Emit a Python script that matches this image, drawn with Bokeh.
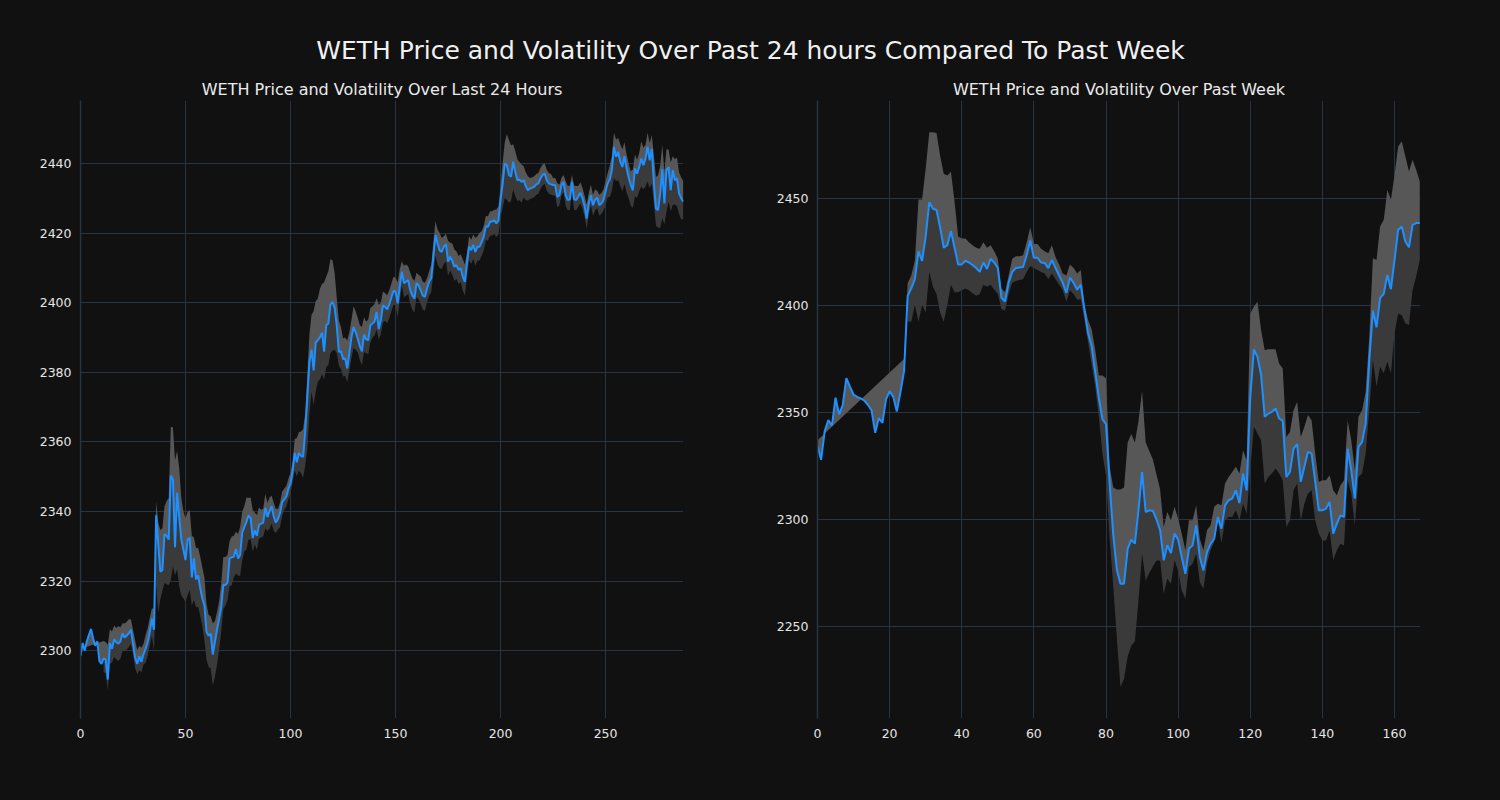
import math
from bokeh.plotting import figure
from bokeh.layouts import column, row
from bokeh.models import Range1d, FixedTicker
from bokeh.core.properties import value
from bokeh.embed import file_html
from bokeh.resources import INLINE

N = float("nan")

# ---------------- data: last 24 hours (5-minute steps) ----------------
price_24h = [
    2298.4, 2302.2, 2300.0, 2302.7, 2304.5, 2306.2, 2303.5, 2301.4, 2302.7, 2297.0,
    2296.2, 2297.8, 2297.5, 2291.7, 2302.2, 2300.5, 2303.2, 2302.5, 2302.0, 2302.7,
    2304.9, 2303.8, 2304.3, 2305.0, 2306.0, 2302.0, 2298.0, 2296.2, 2298.4, 2296.8,
    2299.0, 2300.5, 2302.5, 2305.5, 2309.2, 2306.0, 2338.9, 2330.8, 2322.7, 2323.2,
    2333.5, 2333.0, 2331.9, 2350.3, 2349.2, 2329.7, 2345.4, 2338.4, 2331.9, 2329.0,
    2326.0, 2331.9, 2332.4, 2321.0, 2326.5, 2320.5, 2321.6, 2318.0, 2315.0, 2313.0,
    2305.4, 2304.3, 2304.9, 2298.9, 2302.5, 2306.0, 2309.2, 2312.4, 2318.9, 2318.9,
    2319.5, 2326.5, 2326.8, 2327.0, 2329.2, 2326.5, 2327.5, 2334.0, 2335.5, 2337.0,
    2338.9, 2338.0, 2332.4, 2334.6, 2333.0, 2336.2, 2336.5, 2336.8, 2341.1, 2338.4,
    2340.0, 2341.5, 2338.5, 2336.8, 2337.8, 2339.5, 2342.7, 2343.5, 2344.3, 2346.5,
    2348.1, 2351.5, 2356.8, 2354.1, 2356.8, 2356.0, 2355.7, 2363.2, 2373.0, 2383.0,
    2386.5, 2380.5, 2388.5, 2389.2, 2390.0, 2391.4, 2385.9, 2393.5, 2394.0, 2399.5,
    2400.2, 2398.5, 2393.5, 2385.9, 2386.0, 2383.8, 2384.0, 2381.1, 2385.5, 2390.0,
    2393.0, 2391.5, 2389.7, 2387.5, 2386.0, 2390.8, 2389.5, 2389.2, 2393.5, 2394.0,
    2394.6, 2397.3, 2392.4, 2395.0, 2399.2, 2398.8, 2398.1, 2399.5, 2401.5, 2403.4,
    2403.2, 2399.8, 2404.6, 2408.9, 2405.6, 2406.0, 2406.5, 2403.6, 2402.0, 2401.2,
    2405.6, 2405.0, 2403.5, 2402.0, 2401.7, 2404.1, 2406.0, 2407.0, 2413.2, 2419.4,
    2417.0, 2415.0, 2414.6, 2416.1, 2416.8, 2411.8, 2413.2, 2412.0, 2410.3, 2410.8,
    2409.4, 2409.9, 2407.5, 2406.0, 2411.3, 2416.1, 2415.1, 2416.6, 2414.6, 2416.1,
    2416.1, 2417.5, 2419.0, 2422.0, 2421.8, 2423.3, 2423.3, 2423.7, 2422.8, 2423.7,
    2429.5, 2434.3, 2440.0, 2439.5, 2436.7, 2436.2, 2440.5, 2437.6, 2435.2, 2435.4,
    2434.7, 2435.2, 2433.5, 2432.3, 2432.8, 2433.0, 2433.3, 2434.0, 2434.3, 2435.7,
    2436.7, 2437.1, 2435.2, 2434.3, 2434.0, 2433.8, 2433.8, 2430.4, 2430.9, 2433.8,
    2434.7, 2430.9, 2429.5, 2429.7, 2434.7, 2429.7, 2429.5, 2430.5, 2431.6, 2430.0,
    2427.8, 2424.2, 2428.5, 2430.9, 2428.0, 2429.5, 2430.2, 2428.0, 2428.5, 2429.5,
    2432.0, 2434.3, 2435.4, 2438.1, 2444.8, 2441.9, 2443.3, 2440.5, 2439.0, 2442.1,
    2438.6, 2436.0, 2433.8, 2432.3, 2438.6, 2437.1, 2439.0, 2441.4, 2439.5, 2441.4,
    2444.8, 2440.9, 2444.2, 2434.3, 2427.1, 2426.6, 2431.4, 2438.3, 2428.5, 2438.1,
    2439.0, 2432.3, 2438.1, 2435.2, 2435.7, 2431.4, 2430.0, 2429.0,
]
# distance of the upper band above the price (NaN = no band value)
band_up_24h = [
    2.1, N, N, N, N, N, N, N, N, N,
    N, 5, 5, 10, 4, 5, 4, 4, 5, 4,
    3, 4, 4, 4, 3, 4, 5, 4, 3, 4,
    3, 4, 4, 4, 3, 6, 4, 6, 12, 12,
    8, 10, 12, 14, 15, 25, 12, 14, 12, 11,
    12, 8, 8, 12, 6, 9, 8, 9, 9, 8,
    8, 6, 5, 9, 6, 5, 5, 7, 8, 8,
    8, 5, 6, 6, 5, 7, 8, 6, 6, 7,
    5, 6, 8, 5, 6, 5, 4, 4, 4, 4,
    4, 3, 4, 4, 3, 3, 3, 3, 3, 3,
    3, 3, 4, 7, 6, 7, 8, 5, 6, 8,
    10, 17, 12, 12, 14, 14, 20, 14, 15, 13,
    12, 10, 8, 9, 7, 6, 6, 8, 6, 5,
    6, 6, 6, 6, 7, 5, 5, 6, 5, 5,
    5, 4, 7, 5, 4, 4, 4, 4, 4, 4,
    4, 6, 5, 3, 5, 5, 4, 5, 5, 5,
    3, 3, 4, 4, 4, 3, 3, 4, 4, 4,
    4, 5, 4, 3, 3, 6, 4, 5, 5, 4,
    4, 4, 5, 5, 3, 3, 3, 3, 4, 3,
    4, 3, 3, 3, 3, 3, 3, 3, 4, 4,
    4, 6, 6, 9, 10, 9, 5, 6, 6, 5,
    5, 4, 4, 4, 3, 3, 3, 3, 3, 3,
    3, 3, 3, 3, 3, 2, 2, 4, 3, 2,
    2, 4, 4, 4, 2, 4, 4, 3, 3, 3,
    3, 4, 3, 3, 3, 3, 2, 3, 3, 3,
    3, 3, 4, 4, 4, 5, 4, 5, 5, 4,
    4, 4, 4, 6, 4, 4, 4, 5, 5, 4,
    4, 5, 4, 8, 9, 10, 8, 7, 9, 6,
    5, 8, 4, 6, 6, 6, 6, 6,
]
# distance of the lower band below the price
band_dn_24h = [
    N, N, N, N, N, N, N, N, N, N,
    N, 4, 4, 3, 6, 4, 5, 5, 5, 5,
    5, 4, 4, 4, 4, 3, 3, 3, 4, 3,
    3, 4, 4, 4, 5, 6, 20, 20, 8, 6,
    14, 14, 13, 30, 25, 8, 22, 20, 16, 14,
    12, 16, 15, 8, 12, 8, 9, 8, 8, 10,
    8, 9, 10, 9, 10, 10, 9, 7, 7, 6,
    5, 8, 8, 6, 7, 5, 6, 8, 7, 8,
    7, 6, 4, 4, 4, 4, 4, 4, 6, 4,
    5, 5, 4, 3, 3, 4, 4, 3, 3, 3,
    3, 3, 5, 4, 5, 5, 6, 10, 15, 15,
    12, 10, 14, 12, 12, 12, 8, 12, 12, 14,
    14, 12, 8, 4, 5, 5, 5, 4, 5, 6,
    6, 5, 4, 4, 4, 5, 4, 4, 5, 4,
    4, 5, 3, 4, 5, 4, 4, 4, 4, 4,
    4, 4, 4, 4, 4, 4, 4, 4, 4, 4,
    4, 4, 4, 4, 4, 4, 4, 4, 5, 6,
    6, 5, 5, 5, 5, 4, 4, 4, 4, 4,
    4, 4, 4, 4, 4, 4, 4, 4, 4, 4,
    4, 4, 4, 4, 4, 4, 4, 4, 4, 4,
    5, 7, 10, 10, 8, 7, 8, 7, 6, 6,
    6, 5, 4, 3, 3, 3, 3, 3, 3, 3,
    3, 3, 3, 3, 3, 3, 3, 3, 3, 3,
    3, 3, 3, 3, 3, 3, 3, 3, 3, 3,
    3, 3, 3, 3, 3, 3, 3, 3, 3, 3,
    4, 4, 5, 6, 9, 7, 8, 7, 7, 8,
    7, 6, 6, 5, 8, 7, 7, 8, 7, 8,
    10, 8, 10, 6, 5, 5, 10, 14, 6, 12,
    10, 6, 10, 7, 8, 6, 6, 5,
]

# ---------------- data: past week (hourly steps) ----------------
price_week = [
    2334.4, 2327.9, 2341.3, 2346.5, 2343.9, 2356.9, 2349.1, 2353.5, 2366.1, 2362.1,
    2358.3, 2357.3, 2356.6, 2355.5, 2353.5, 2350.9, 2340.5, 2347.4, 2345.2, 2356.1,
    2360.0, 2357.3, 2350.5, 2359.5, 2369.4, 2404.5, 2408.0, 2412.3, 2425.3, 2420.9,
    2432.2, 2448.3, 2445.2, 2444.6, 2436.5, 2427.0, 2428.2, 2434.8, 2427.0, 2419.2,
    2419.2, 2420.9, 2420.1, 2418.9, 2417.5, 2415.7, 2420.1, 2417.1, 2421.8, 2420.1,
    2417.5, 2403.6, 2401.9, 2410.6, 2415.7, 2417.5, 2417.8, 2418.0, 2423.5, 2430.4,
    2422.3, 2422.3, 2420.1, 2419.9, 2417.5, 2421.3, 2417.5, 2414.0, 2410.6, 2405.9,
    2413.1, 2410.6, 2407.4, 2409.7, 2398.4, 2387.2, 2381.1, 2369.0, 2356.9, 2346.9,
    2344.5, 2317.1, 2292.9, 2276.5, 2270.0, 2270.0, 2286.3, 2290.6, 2288.7, 2304.3,
    2322.2, 2303.5, 2304.3, 2304.0, 2300.0, 2295.0, 2280.9, 2288.0, 2284.3, 2293.4,
    2290.6, 2282.5, 2274.6, 2286.3, 2287.9, 2297.3, 2282.5, 2276.2, 2284.8, 2288.7,
    2291.0, 2301.2, 2295.7, 2306.6, 2309.0, 2309.8, 2313.6, 2307.7, 2321.4, 2313.6,
    2357.3, 2379.5, 2376.0, 2367.5, 2348.0, 2349.5, 2350.3, 2351.9, 2347.2, 2346.1,
    2319.9, 2322.2, 2333.1, 2335.2, 2317.6, 2324.6, 2331.6, 2330.8, 2317.6, 2304.3,
    2304.3, 2305.1, 2308.2, 2293.4, 2298.0, 2301.9, 2301.2, 2333.1, 2323.0, 2309.8,
    2333.9, 2336.3, 2344.9, 2374.5, 2397.6, 2389.8, 2403.4, 2405.4, 2414.3, 2407.6,
    2421.3, 2435.3, 2436.9, 2429.9, 2427.2, 2437.7, 2438.5, 2438.5,
]
upper_week = [
    2337, N, N, N, N, N, N, N, N, N,
    N, N, N, N, N, N, N, N, N, N,
    N, N, N, N, 2375, 2410.5, 2414, 2421, 2449.5, 2449.5,
    2464, 2481, 2481, 2480.6, 2470, 2461.6, 2460.7, 2462.5, 2448.6, 2432.2,
    2431.3, 2431.3, 2429.6, 2428.2, 2427, 2426.5, 2429.6, 2427, 2428.2, 2425.3,
    2421.8, 2408, 2406.2, 2414, 2421.8, 2423, 2423, 2423.5, 2429.6, 2436.5,
    2428.7, 2428.7, 2426.5, 2425.3, 2424.4, 2428.2, 2422.7, 2419.2, 2414.9, 2414,
    2419.2, 2417.5, 2414.9, 2416.6, 2400.2, 2393.3, 2388.9, 2379.4, 2367.3, 2367.3,
    2366, 2325, 2315, 2314, 2314, 2315, 2336, 2340, 2336, 2346,
    2360, 2336, 2332, 2328, 2321, 2314, 2296.5, 2303.5, 2299.6, 2305.9,
    2300.4, 2293.4, 2285.6, 2299.6, 2299.6, 2306.6, 2291, 2285.6, 2295, 2297.3,
    2305.9, 2307.4, 2306.6, 2316.8, 2319.9, 2322.2, 2324.6, 2321.5, 2332.4, 2327.7,
    2396.3, 2399.5, 2401.8, 2388.5, 2379.2, 2379.5, 2379.5, 2379.5, 2372.9, 2370.6,
    2338.6, 2340.9, 2351.1, 2355, 2338.6, 2343.3, 2348.8, 2346.4, 2330.8, 2317.5,
    2318.3, 2318.3, 2320.7, 2313.7, 2311.3, 2316, 2318.3, 2346.4, 2337, 2323,
    2348, 2351.1, 2359.7, 2385.4, 2422.1, 2421.3, 2436.9, 2440, 2454, 2449.4,
    2461, 2474.3, 2476.7, 2469.7, 2462.6, 2468.1, 2463.4, 2458,
]
lower_week = [
    N, N, N, N, N, N, N, N, N, N,
    N, N, N, N, N, N, N, N, N, N,
    N, N, N, N, N, 2392.4, 2392.4, 2400.2, 2392.4, 2400.2,
    2396.7, 2415.7, 2408.8, 2405.4, 2396.7, 2392.4, 2400.2, 2409.7, 2406.2, 2406.2,
    2407.1, 2408, 2407.1, 2405.7, 2404.5, 2405.4, 2409.7, 2408.8, 2409.7, 2407.4,
    2405.4, 2398.4, 2397.6, 2405.4, 2410.6, 2411.4, 2411.9, 2412.3, 2415.7, 2418.3,
    2417.5, 2416.6, 2415.7, 2414.9, 2412.3, 2414.9, 2412.3, 2409.7, 2407.1, 2401.9,
    2407.1, 2405.4, 2402.8, 2402.8, 2393.3, 2382.9, 2372.5, 2362.1, 2348.3, 2331,
    2320.6, 2291.2, 2268.7, 2244.5, 2221.7, 2225.6, 2236, 2241, 2243, 2262,
    2284, 2271.5, 2275, 2278, 2280.8, 2280.8, 2265.3, 2272.3, 2270, 2280.9,
    2276.2, 2266.8, 2263, 2277.8, 2279.3, 2284, 2270.8, 2267.6, 2279.3, 2285.6,
    2289.5, 2299.6, 2289, 2299.6, 2301.2, 2301.2, 2304.3, 2299.6, 2307.4, 2302.7,
    2323, 2343.3, 2340.2, 2337, 2316.8, 2319.9, 2321.5, 2323.8, 2321.5, 2318.3,
    2296.5, 2299.6, 2313.7, 2316.8, 2299.6, 2307.4, 2312.1, 2313.7, 2299.6, 2293.4,
    2290.2, 2290.2, 2294.9, 2280.9, 2285.6, 2288.7, 2287.9, 2318.3, 2312.1, 2297.3,
    2319.9, 2321.5, 2330.8, 2351.1, 2374.5, 2362, 2371.4, 2368.3, 2373.7, 2368.3,
    2387, 2396.3, 2395.5, 2391.7, 2390.9, 2407.3, 2413.5, 2421.3,
]

x_ticks_24h = [0, 50, 100, 150, 200, 250]
y_ticks_24h = [2300, 2320, 2340, 2360, 2380, 2400, 2420, 2440]
x_ticks_week = [0, 20, 40, 60, 80, 100, 120, 140, 160]
y_ticks_week = [2250, 2300, 2350, 2400, 2450]

main_title = "WETH Price and Volatility Over Past 24 hours Compared To Past Week"
title_24h = "WETH Price and Volatility Over Last 24 Hours"
title_week = "WETH Price and Volatility Over Past Week"

# ---------------- styling ----------------
BG = "#111111"
GRID = "#283442"
TXT = "#e6e6e6"
LINE = "#1e90ff"
FILL_UP = "#575757"
FILL_DN = "#3a3a3a"
FONT = "DejaVu Sans"


def isnum(v):
    return not (isinstance(v, float) and math.isnan(v))


def band_polys(xs, price, upper, lower):
    ux = [x for x, u in zip(xs, upper) if isnum(u)]
    uy = [u for u in upper if isnum(u)]
    up_x = list(xs) + ux[::-1]
    up_y = list(price) + uy[::-1]
    lx = [x for x, l in zip(xs, lower) if isnum(l)]
    ly = [l for l in lower if isnum(l)]
    lp = [p for p, l in zip(price, lower) if isnum(l)]
    dn_x = lx + lx[::-1]
    dn_y = ly + lp[::-1]
    return up_x, up_y, dn_x, dn_y


def make_fig(xs, price, upper, lower, xr, yr, xt, yt, bl, br):
    p = figure(width=750, height=698, x_range=Range1d(*xr), y_range=Range1d(*yr),
               output_backend="svg", toolbar_location=None,
               min_border_left=bl, min_border_right=br,
               min_border_top=0, min_border_bottom=80)
    p.background_fill_color = BG
    p.border_fill_color = BG
    p.outline_line_color = None
    up_x, up_y, dn_x, dn_y = band_polys(xs, price, upper, lower)
    p.patch(dn_x, dn_y, fill_color=FILL_DN, line_color=None)
    p.patch(up_x, up_y, fill_color=FILL_UP, line_color=None)
    p.line(xs, price, line_color=LINE, line_width=2)

    p.xaxis.ticker = FixedTicker(ticks=xt)
    p.yaxis.ticker = FixedTicker(ticks=yt)
    p.xgrid.ticker = FixedTicker(ticks=xt)
    p.ygrid.ticker = FixedTicker(ticks=yt)
    p.grid.grid_line_color = GRID
    p.grid.grid_line_width = 1
    for ax in (p.xaxis, p.yaxis):
        ax.major_tick_line_color = None
        ax.minor_tick_line_color = None
        ax.major_label_text_color = TXT
        ax.major_label_text_font = FONT
        ax.major_label_text_font_size = "12.5px"
    p.xaxis.axis_line_color = None
    p.yaxis.axis_line_color = GRID
    p.yaxis.axis_line_width = 1.5
    p.xaxis.major_label_standoff = 4
    p.yaxis.major_label_standoff = 3
    return p


# ---- 24h ----
xs_24h = list(range(len(price_24h)))
upper_24h = [pr + d if isnum(d) else N for pr, d in zip(price_24h, band_up_24h)]
lower_24h = [pr - d if isnum(d) else N for pr, d in zip(price_24h, band_dn_24h)]
p1 = make_fig(xs_24h, price_24h, upper_24h, lower_24h,
              (0, 287.1), (2280.5, 2458.1), x_ticks_24h, y_ticks_24h, 80, 67)

# ---- week ----
xs_week = list(range(len(price_week)))
p2 = make_fig(xs_week, price_week, upper_week, lower_week,
              (0, 167.2), (2207.0, 2495.8), x_ticks_week, y_ticks_week, 67, 80)

# ---- header with titles ----
h = figure(width=1500, height=100, x_range=Range1d(0, 1500), y_range=Range1d(100, 0),
           output_backend="svg", toolbar_location=None,
           min_border_left=0, min_border_right=0, min_border_top=0, min_border_bottom=0)
h.background_fill_color = BG
h.border_fill_color = BG
h.outline_line_color = None
h.axis.visible = False
h.grid.visible = False
h.text(x=[750], y=[50], text=[main_title], text_align="center", text_baseline="middle",
       text_font=value(FONT), text_font_size="25px", text_color="#f0f0f0")
h.text(x=[381.5, 1118.5], y=[89, 89], text=[title_24h, title_week],
       text_align="center", text_baseline="middle",
       text_font=value(FONT), text_font_size="16px", text_color="#ebebeb")

layout = column(h, row(p1, p2, spacing=0), spacing=0)

html = file_html(layout, INLINE, title="WETH Price and Volatility")
html = html.replace("<head>", "<head><style>html,body{background:#111111;}</style>", 1)
open("out.html", "w").write(html)
